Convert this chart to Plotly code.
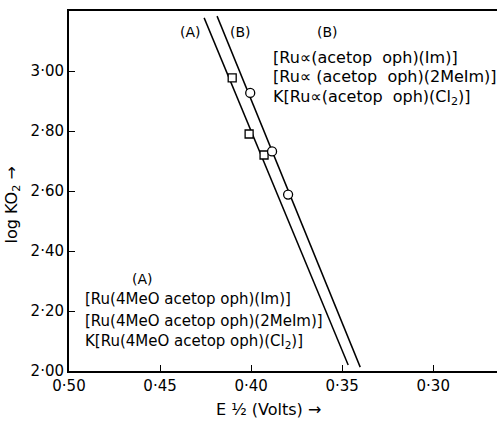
import plotly.graph_objects as go

# Data
series_A_E = [0.4104, 0.4011, 0.3929]   # squares (A)
series_A_logK = [2.977, 2.790, 2.720]
series_B_E = [0.4005, 0.3885, 0.3797]   # circles (B)
series_B_logK = [2.927, 2.732, 2.588]

fit_A_E = [0.4258, 0.3467]
fit_A_logK = [3.177, 2.020]
fit_B_E = [0.4187, 0.3401]
fit_B_logK = [3.183, 2.013]

x_tickvals = [0.50, 0.45, 0.40, 0.35, 0.30]
x_ticktext = ["0·50", "0·45", "0·40", "0·35", "0·30"]
y_tickvals = [2.00, 2.20, 2.40, 2.60, 2.80, 3.00]
y_ticktext = ["2·00", "2·20", "2·40", "2·60", "2·80", "3·00"]

NB = "\u00a0"
label_B = ["[Ru∝(acetop" + NB * 2 + "oph)(Im)]",
           "[Ru∝" + NB + "(acetop" + NB * 2 + "oph)(2MeIm)]",
           "K[Ru∝(acetop" + NB * 2 + "oph)(Cl<sub>2</sub>)]"]
label_A = ["[Ru(4MeO acetop oph)(Im)]", "[Ru(4MeO acetop oph)(2MeIm)]",
           "K[Ru(4MeO acetop oph)(Cl<sub>2</sub>)]"]
x_title = "E" + NB + "½" + NB + "(Volts)" + NB + "→"
y_title = "log" + NB + "KO<sub>2</sub>" + NB + "→"

FONT = "DejaVu Sans"
fig = go.Figure()
fig.add_trace(go.Scatter(x=fit_A_E, y=fit_A_logK, mode="lines",
                         line=dict(color="black", width=1.5), showlegend=False))
fig.add_trace(go.Scatter(x=fit_B_E, y=fit_B_logK, mode="lines",
                         line=dict(color="black", width=1.5), showlegend=False))
fig.add_trace(go.Scatter(x=series_A_E, y=series_A_logK, mode="markers",
                         marker=dict(symbol="square", size=8, color="white",
                                     line=dict(color="black", width=1.3)), showlegend=False))
fig.add_trace(go.Scatter(x=series_B_E, y=series_B_logK, mode="markers",
                         marker=dict(symbol="circle", size=9, color="white",
                                     line=dict(color="black", width=1.3)), showlegend=False))

ann = []
def txt(x, y, t, anchor="left", size=15, angle=0):
    ann.append(dict(x=x, y=y, xref="paper", yref="paper", text=t, showarrow=False,
                    xanchor=anchor, yanchor="middle", textangle=angle,
                    font=dict(size=size, color="black", family=FONT)))

txt(0.283, 0.942, "(A)", "center", 14)
txt(0.40, 0.942, "(B)", "center", 14)
txt(0.605, 0.942, "(B)", "center", 14)
for t, y in zip(label_B, [0.872, 0.817, 0.760]):
    txt(0.472, y, t, size=16)
txt(0.171, 0.256, "(A)", "center", 14)
for t, y in zip(label_A, [0.200, 0.139, 0.081]):
    txt(0.033, y, t)
# axis titles
txt(0.465, -0.108, x_title, "center", 16)
txt(-0.133, 0.46, y_title, "center", 16, -90)

fig.update_layout(
    width=497, height=428,
    margin=dict(l=69, r=0, t=11, b=57),
    paper_bgcolor="white", plot_bgcolor="white",
    font=dict(family=FONT, color="black", size=14),
    annotations=ann,
    xaxis=dict(range=[0.50, 0.265], tickvals=x_tickvals, ticktext=x_ticktext,
               ticks="inside", ticklen=6, tickcolor="black", showgrid=False, zeroline=False,
               showline=True, linecolor="black", linewidth=2, mirror=True,
               tickfont=dict(size=15, family=FONT), automargin=False),
    yaxis=dict(range=[2.0, 3.2], tickvals=y_tickvals, ticktext=y_ticktext,
               ticks="inside", ticklen=6, tickcolor="black", showgrid=False, zeroline=False,
               showline=True, linecolor="black", linewidth=2,
               tickfont=dict(size=15, family=FONT), automargin=False),
)
fig.write_html("out.html", config={"displayModeBar": False},
               post_script="document.body.style.margin='0';document.body.style.overflow='hidden';")
